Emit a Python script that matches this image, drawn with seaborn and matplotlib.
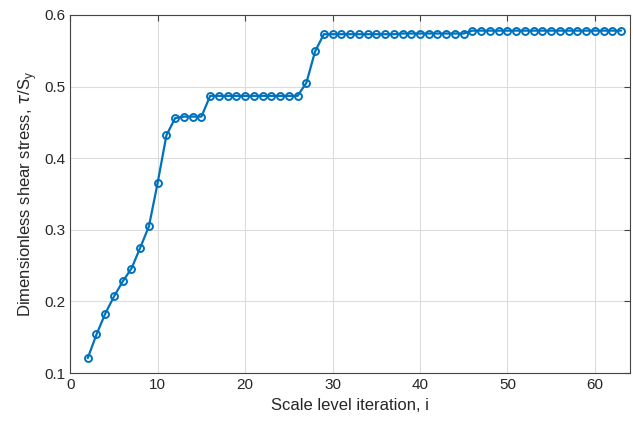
import numpy as np
import pandas as pd
import matplotlib
matplotlib.use("Agg")
import matplotlib.pyplot as plt
import seaborn as sns

# Scale level iteration vs dimensionless shear stress
iteration = list(range(2, 64))
stress = ([0.121, 0.154, 0.183, 0.207, 0.228, 0.246, 0.275, 0.305, 0.366, 0.432,
           0.456, 0.458, 0.458, 0.458]
          + [0.487] * 11
          + [0.505, 0.549]
          + [0.573] * 9
          + [0.574] * 8
          + [0.578] * 18)

df = pd.DataFrame({"i": iteration, "stress": stress})

sns.set_style("white")
plt.rcParams['font.family'] = ['Liberation Sans', 'DejaVu Sans']

fig = plt.figure(figsize=(6.33, 4.25), dpi=100)
ax = fig.add_axes([0.111, 0.122, 0.884, 0.843])

sns.lineplot(data=df, x="i", y="stress", ax=ax, color="#0072BD", linewidth=1.6,
             marker="o", markersize=5, markerfacecolor="none",
             markeredgecolor="#0072BD", markeredgewidth=1.4)

ax.set_xlim(0, 64)
ax.set_ylim(0.1, 0.6)
ax.set_xticks([0, 10, 20, 30, 40, 50, 60])
ax.set_yticks([0.1, 0.2, 0.3, 0.4, 0.5, 0.6])
ax.set_yticklabels(["0.1", "0.2", "0.3", "0.4", "0.5", "0.6"])
ax.grid(True, color="#dcdcdc", linewidth=0.8)
ax.tick_params(direction="in", top=True, right=True, labelsize=11,
               length=4, color="#444444")
for s in ax.spines.values():
    s.set_color("#444444")
    s.set_linewidth(0.8)

ax.set_xlabel("Scale level iteration, i", fontsize=12)
ax.set_ylabel(r"Dimensionless shear stress, $\tau$/S$_\mathregular{y}$", fontsize=12)

fig.savefig("out.png", dpi=100)
